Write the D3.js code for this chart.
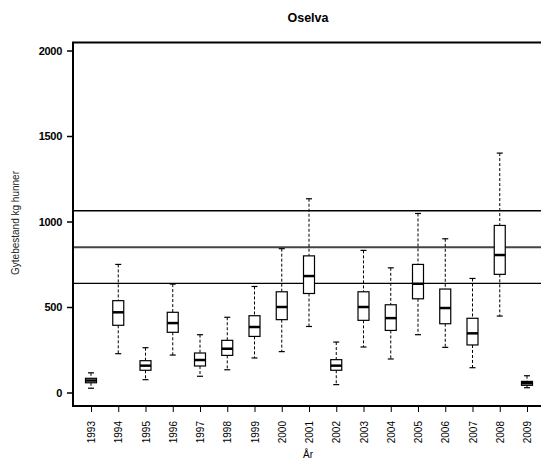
<!DOCTYPE html>
<html>
<head>
<meta charset="utf-8">
<script src="https://cdn.jsdelivr.net/npm/d3@7"></script>
<style>
  body { margin: 0; background: #fff; }
  svg { display: block; font-family: "Liberation Sans", Arial, sans-serif; }
</style>
</head>
<body>
<div id="chart"></div>
<script>
const years = [1993, 1994, 1995, 1996, 1997, 1998, 1999, 2000, 2001,
               2002, 2003, 2004, 2005, 2006, 2007, 2008, 2009];
const lowWhisker = [25, 227, 75, 219, 95, 133, 202, 239, 386, 46, 266, 196, 338, 264, 145, 447, 28];
const q1 =         [57, 393, 130, 352, 155, 217, 328, 426, 579, 130, 422, 363, 548, 402, 278, 691, 42];
const medians =    [70, 469, 157, 406, 190, 256, 383, 500, 681, 157, 500, 435, 636, 494, 346, 804, 54];
const q3 =         [83, 537, 186, 469, 231, 305, 449, 589, 799, 192, 589, 513, 749, 605, 434, 977, 65];
const highWhisker = [115, 749, 262, 634, 338, 440, 620, 841, 1133, 295, 831, 729, 1047, 899, 667, 1400, 98];
const refLines = [1063, 850, 638];
const yTicks = [0, 500, 1000, 1500, 2000];

const W = 541, H = 459;
const frame = {left: 73, top: 42.5, right: 543, bottom: 406};

const svg = d3.select("#chart").append("svg")
  .attr("width", W).attr("height", H);

const x = d3.scalePoint().domain(years).range([91, 527]);
const y = d3.scaleLinear().domain([0, 2000]).range([392.5, 50.5]);

const boxes = years.map((yr, i) => ({
  year: yr, lo: lowWhisker[i], q1: q1[i], med: medians[i], q3: q3[i], hi: highWhisker[i]
}));

// reference lines
svg.append("g").selectAll("line")
  .data(refLines)
  .join("line")
  .attr("x1", frame.left).attr("x2", frame.right)
  .attr("y1", d => y(d)).attr("y2", d => y(d))
  .attr("stroke", (d, i) => i === 1 ? "#444" : "#000")
  .attr("stroke-width", (d, i) => i === 1 ? 2 : 1.3);

// boxes
const bw = 11, cw = 6;
const g = svg.append("g").selectAll("g")
  .data(boxes)
  .join("g")
  .attr("transform", d => `translate(${x(d.year)},0)`);

g.append("line")
  .attr("y1", d => y(d.hi)).attr("y2", d => y(d.q3))
  .attr("stroke", "#000").attr("stroke-dasharray", "3,2");
g.append("line")
  .attr("y1", d => y(d.q1)).attr("y2", d => y(d.lo))
  .attr("stroke", "#000").attr("stroke-dasharray", "3,2");
g.append("line")
  .attr("x1", -cw / 2).attr("x2", cw / 2)
  .attr("y1", d => y(d.hi)).attr("y2", d => y(d.hi))
  .attr("stroke", "#000").attr("stroke-width", 1.2);
g.append("line")
  .attr("x1", -cw / 2).attr("x2", cw / 2)
  .attr("y1", d => y(d.lo)).attr("y2", d => y(d.lo))
  .attr("stroke", "#000").attr("stroke-width", 1.2);
g.append("rect")
  .attr("x", -bw / 2).attr("width", bw)
  .attr("y", d => y(d.q3))
  .attr("height", d => y(d.q1) - y(d.q3))
  .attr("fill", "#fff").attr("stroke", "#000").attr("stroke-width", 1.2);
g.append("line")
  .attr("x1", -bw / 2).attr("x2", bw / 2)
  .attr("y1", d => y(d.med)).attr("y2", d => y(d.med))
  .attr("stroke", "#000").attr("stroke-width", 2.5);

// frame
svg.append("path")
  .attr("d", `M${frame.right},${frame.top}H${frame.left}V${frame.bottom}H${frame.right}`)
  .attr("fill", "none").attr("stroke", "#000").attr("stroke-width", 2);

// y axis
const yAxis = svg.append("g")
  .attr("transform", `translate(${frame.left},0)`)
  .call(d3.axisLeft(y).tickValues(yTicks).tickSize(6).tickPadding(5).tickFormat(d3.format("d")));
yAxis.select(".domain").remove();
yAxis.selectAll(".tick line").attr("stroke-width", 1.5);
yAxis.selectAll(".tick text")
  .attr("font-size", 11).attr("font-weight", "bold")
  .attr("font-family", "Liberation Sans, Arial, sans-serif")
  .attr("letter-spacing", "-0.3px").attr("fill", "#000");

// x axis
const xAxis = svg.append("g")
  .attr("transform", `translate(0,${frame.bottom})`)
  .call(d3.axisBottom(x).tickSize(6).tickFormat(d3.format("d")));
xAxis.select(".domain").remove();
xAxis.selectAll(".tick line").attr("stroke-width", 1);
xAxis.selectAll(".tick text")
  .attr("font-size", 10)
  .attr("font-family", "Liberation Sans, Arial, sans-serif")
  .attr("fill", "#000")
  .attr("transform", "rotate(-90)")
  .attr("text-anchor", "end")
  .attr("x", -15).attr("y", 0).attr("dy", "0.35em");

// titles
svg.append("text")
  .attr("x", 308).attr("y", 22)
  .attr("text-anchor", "middle")
  .attr("font-size", 12.5).attr("font-weight", "bold")
  .text("Oselva");

svg.append("text")
  .attr("x", 308).attr("y", 458)
  .attr("text-anchor", "middle")
  .attr("font-size", 10)
  .text("År");

svg.append("text")
  .attr("transform", "translate(19,223) rotate(-90)")
  .attr("text-anchor", "middle")
  .attr("font-size", 10).attr("fill", "#222")
  .text("Gytebestand kg hunner");
</script>
</body>
</html>
